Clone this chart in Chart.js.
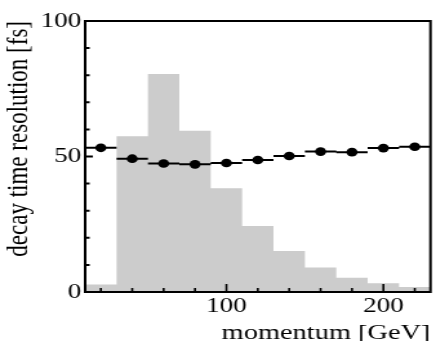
<!DOCTYPE html>
<html>
<head>
<meta charset="utf-8">
<script src="https://cdn.jsdelivr.net/npm/chart.js@4.4.1/dist/chart.umd.min.js"></script>
<style>
  html, body { margin: 0; padding: 0; background: #fff; overflow: hidden; }
  /* the plot is laid out narrow and widened to the page */
  #wrap { width: 338px; height: 341px; transform: scaleX(1.29); transform-origin: 0 0; }
</style>
</head>
<body>
<div id="wrap"><canvas id="chart"></canvas></div>
<script>
// momentum bins [GeV] and the histogram content per bin
const binEdges = [10, 30, 50, 70, 90, 110, 130, 150, 170, 190, 210, 230]
const binCounts = [2.8, 57.5, 80.4, 59.5, 38.3, 24.4, 15.1, 9.0, 5.3, 3.2, 1.8]

// decay time resolution [fs] at each bin centre
const momentum = [20, 40, 60, 80, 100, 120, 140, 160, 180, 200, 220]
const resolution = [53.2, 49.2, 47.4, 47.1, 47.6, 48.7, 50.2, 51.8, 51.6, 53.1, 53.6]

// ticks
const xTicks = [20, 40, 60, 80, 100, 120, 140, 160, 180, 200, 220]
const xLabelled = [100, 200]
const yTicks = [0, 10, 20, 30, 40, 50, 60, 70, 80, 90, 100]
const yLabelled = [0, 50, 100]

const serif = "'Liberation Serif', 'DejaVu Serif', serif"

// histogram outline as steps: each edge carries the value of the bin to its right
const histPoints = binEdges.map((e, i) => ({ x: e, y: binCounts[Math.min(i, binCounts.length - 1)] }))

// horizontal bars spanning each bin, broken between bins
const barPoints = []
momentum.forEach((m, i) => {
    barPoints.push({ x: binEdges[i], y: resolution[i] })
    barPoints.push({ x: binEdges[i + 1], y: resolution[i] })
    barPoints.push({ x: binEdges[i + 1], y: null })
})

const markerPoints = momentum.map((m, i) => ({ x: m, y: resolution[i] }))

// box around the plot and inward tick marks
const frameAndTicks = {
    id: 'frameAndTicks',
    afterDraw(chart) {
        const { ctx, chartArea: a, scales: { x, y } } = chart
        ctx.save()
        ctx.strokeStyle = '#000'
        ctx.lineWidth = 2
        ctx.strokeRect(a.left, a.top, a.right - a.left, a.bottom - a.top)

        ctx.lineWidth = 1.6
        ctx.beginPath()
        x.ticks.forEach(t => {
            const px = x.getPixelForValue(t.value)
            const len = xLabelled.includes(t.value) ? 8 : 4
            ctx.moveTo(px, a.bottom)
            ctx.lineTo(px, a.bottom - len)
        })
        ctx.stroke()

        ctx.lineWidth = 2
        ctx.beginPath()
        y.ticks.forEach(t => {
            const py = y.getPixelForValue(t.value)
            const len = yLabelled.includes(t.value) ? 6 : 3.5
            ctx.moveTo(a.left, py)
            ctx.lineTo(a.left + len, py)
        })
        ctx.stroke()
        ctx.restore()
    }
}

new Chart(document.getElementById('chart'), {
    type: 'line',
    data: {
        datasets: [
            {
                label: 'resolution',
                data: markerPoints,
                showLine: false,
                pointRadius: 4.3,
                pointBackgroundColor: '#000',
                pointBorderWidth: 0,
                order: 1
            },
            {
                label: 'bin width',
                data: barPoints,
                borderColor: '#000',
                borderWidth: 2,
                pointRadius: 0,
                spanGaps: false,
                order: 2
            },
            {
                label: 'entries',
                data: histPoints,
                stepped: true,
                fill: 'origin',
                backgroundColor: 'rgb(204, 204, 204)',
                borderWidth: 0,
                pointRadius: 0,
                order: 3
            }
        ]
    },
    options: {
        responsive: true,
        maintainAspectRatio: false,
        animation: false,
        events: [],
        layout: { padding: { top: 21, right: 2, left: 0, bottom: 0 } },
        plugins: {
            legend: { display: false },
            tooltip: { enabled: false }
        },
        scales: {
            x: {
                type: 'linear',
                min: binEdges[0],
                max: binEdges[binEdges.length - 1],
                grid: { display: false, drawTicks: false },
                border: { display: false },
                afterBuildTicks: s => { s.ticks = xTicks.map(v => ({ value: v })) },
                afterFit: s => { s.height = 49 },
                ticks: {
                    autoSkip: false,
                    maxRotation: 0,
                    padding: 2,
                    color: '#000',
                    font: { family: serif, size: 21 },
                    callback: v => xLabelled.includes(v) ? String(v) : ''
                },
                title: {
                    display: true,
                    text: 'momentum [GeV]',
                    align: 'end',
                    color: '#000',
                    font: { family: serif, size: 22, lineHeight: 0.75 },
                    padding: { top: 0, bottom: 0 }
                }
            },
            y: {
                min: 0,
                max: 100,
                grid: { display: false, drawTicks: false },
                border: { display: false },
                afterBuildTicks: s => { s.ticks = yTicks.map(v => ({ value: v })) },
                afterFit: s => { s.width = 66 },
                ticks: {
                    autoSkip: false,
                    padding: 3,
                    color: '#000',
                    font: { family: serif, size: 21 },
                    callback: v => yLabelled.includes(v) ? String(v) : ''
                },
                title: {
                    display: true,
                    text: 'decay time resolution [fs]',
                    align: 'end',
                    color: '#000',
                    font: { family: serif, size: 23, lineHeight: 1 },
                    padding: { top: 3.5, bottom: 0 }
                }
            }
        }
    },
    plugins: [frameAndTicks]
})
</script>
</body>
</html>
